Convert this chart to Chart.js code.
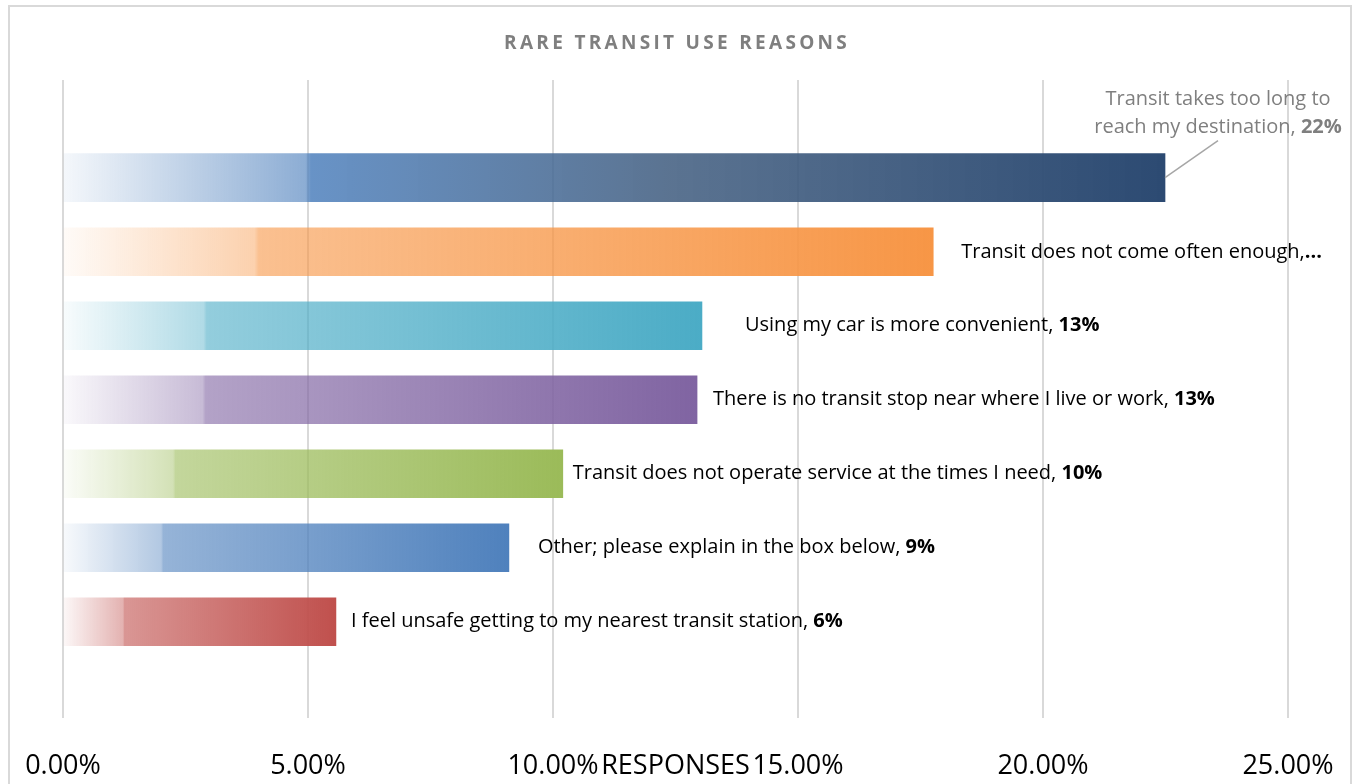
<!DOCTYPE html>
<html>
<head>
<meta charset="utf-8">
<title>Rare Transit Use Reasons</title>
<script src="https://cdn.jsdelivr.net/npm/chart.js@4.4.1/dist/chart.umd.min.js"></script>
<style>
  body { margin: 0; background: #fff; overflow: hidden; }
  #frame { position: absolute; left: 8px; top: 5px; width: 1344px; height: 820px; border: 2px solid #d9d9d9; box-sizing: border-box; }
  #myChart { position: absolute; left: 0; top: 0; }
</style>
</head>
<body>
<div id="frame"></div>
<canvas id="myChart" width="1353" height="784"></canvas>
<script>
// Reasons given for rarely using transit, share of responses (%)
const reasons = [
    'Transit takes too long to reach my destination',
    'Transit does not come often enough',
    'Using my car is more convenient',
    'There is no transit stop near where I live or work',
    'Transit does not operate service at the times I need',
    'Other; please explain in the box below',
    'I feel unsafe getting to my nearest transit station'
];
const responses = [22.49, 17.76, 13.04, 12.94, 10.2, 9.1, 5.57];
const xTicks = [0, 5, 10, 15, 20, 25];
const chartTitle = 'RARE TRANSIT USE REASONS';
const axisTitle = 'RESPONSES';

// Bar end colours (Office palette), faded toward the axis
const barColors = ['#2c4a72', '#f79646', '#4bacc6', '#8064a2', '#9bbb59', '#4f81bd', '#c0504d'];
// Horizontal gap between bar end and its label
const labelGaps = [0, 28, 43, 16, 10, 29, 15];

const FONT = '"Open Sans", "Noto Sans", sans-serif';
const LABEL_SIZE = 20;
const TICK_SIZE = 27;

function rgba(hex, a) {
    const n = parseInt(hex.slice(1), 16);
    return `rgba(${(n >> 16) & 255}, ${(n >> 8) & 255}, ${n & 255}, ${a})`;
}

// Gradient fill running from the zero line to the end of each bar
function barFill(context) {
    const chart = context.chart;
    const i = context.dataIndex;
    if (!chart.chartArea || context.type !== 'data') return barColors[i] || '#888';
    const xs = chart.scales.x;
    const x0 = xs.getPixelForValue(0);
    const x1 = xs.getPixelForValue(context.raw.x);
    const g = chart.ctx.createLinearGradient(x0, 0, x1, 0);
    if (i === 0) {
        g.addColorStop(0, rgba('#4f81bd', 0.06));
        g.addColorStop(0.22, rgba('#4f81bd', 0.65));
        g.addColorStop(0.225, rgba('#4f81bd', 0.86));
        g.addColorStop(0.55, rgba('#446082', 0.88));
        g.addColorStop(1, rgba('#2c4a72', 1));
    } else {
        const c = barColors[i];
        g.addColorStop(0, rgba(c, 0.04));
        g.addColorStop(0.22, rgba(c, 0.44));
        g.addColorStop(0.225, rgba(c, 0.6));
        g.addColorStop(1, rgba(c, 1));
    }
    return g;
}

// Draws a normal run followed by a bold run starting at x
function drawRun(ctx, x, y, text, bold, color, size) {
    ctx.fillStyle = color;
    ctx.font = `${size}px ${FONT}`;
    ctx.textAlign = 'left';
    ctx.fillText(text, x, y);
    const w = ctx.measureText(text).width;
    ctx.font = `bold ${size}px ${FONT}`;
    ctx.fillText(bold, x + w, y);
}

function runWidth(ctx, text, bold, size) {
    ctx.font = `${size}px ${FONT}`;
    const w = ctx.measureText(text).width;
    ctx.font = `bold ${size}px ${FONT}`;
    return w + ctx.measureText(bold).width;
}

// Spaced-out chart title and the axis title that sits on the tick row
const titles = {
    id: 'titles',
    afterDraw(chart) {
        const ctx = chart.ctx;
        const xs = chart.scales.x;
        const cx = (chart.chartArea.left + chart.chartArea.right) / 2;
        ctx.save();
        ctx.textBaseline = 'middle';
        ctx.textAlign = 'center';
        ctx.fillStyle = '#7f7f7f';
        ctx.font = `bold 19px ${FONT}`;
        ctx.letterSpacing = '3.3px';
        ctx.fillText(chartTitle, cx + 1.6, 44);
        ctx.letterSpacing = '0px';
        ctx.fillStyle = '#000';
        ctx.font = `${TICK_SIZE}px ${FONT}`;
        const y = xs.top + xs.options.grid.tickLength + TICK_SIZE * 1.2 / 2;
        ctx.fillText(axisTitle, cx, y);
        ctx.restore();
    }
};

// Category name + value written beside each bar
const valueLabels = {
    id: 'valueLabels',
    afterDatasetsDraw(chart) {
        const ctx = chart.ctx;
        const meta = chart.getDatasetMeta(0);
        const size = LABEL_SIZE;
        ctx.save();
        ctx.textBaseline = 'middle';
        meta.data.forEach((bar, i) => {
            const pct = Math.round(responses[i]) + '%';
            if (i === 0) {
                // callout above the longest bar with a leader line
                const cx = bar.x + 53;
                const words = reasons[i].split(' ');
                const line1 = words.slice(0, 5).join(' ');
                const line2 = words.slice(5).join(' ') + ', ';
                ctx.strokeStyle = '#a6a6a6';
                ctx.lineWidth = 1.5;
                ctx.beginPath();
                ctx.moveTo(bar.x, bar.y);
                ctx.lineTo(cx, bar.y - 37);
                ctx.stroke();
                ctx.fillStyle = '#7f7f7f';
                ctx.font = `${size}px ${FONT}`;
                ctx.textAlign = 'center';
                ctx.fillText(line1, cx, bar.y - 78);
                const w = runWidth(ctx, line2, pct, size);
                drawRun(ctx, cx - w / 2, bar.y - 50, line2, pct, '#7f7f7f', size);
            } else if (i === 1) {
                drawRun(ctx, bar.x + labelGaps[i], bar.y + 1, reasons[i] + ',', '...', '#000', size);
            } else {
                drawRun(ctx, bar.x + labelGaps[i], bar.y, reasons[i] + ', ', pct, '#000', size);
            }
        });
        ctx.restore();
    }
};

function createChart() {
    const ctx = document.getElementById('myChart').getContext('2d');
    new Chart(ctx, {
        type: 'bar',
        data: {
            datasets: [{
                label: 'Responses',
                data: responses.map((v, i) => ({ x: v, y: i })),
                backgroundColor: barFill,
                borderWidth: 0,
                barThickness: 48
            }]
        },
        options: {
            indexAxis: 'y',
            responsive: false,
            animation: false,
            layout: { padding: { left: 63, right: 65, top: 80, bottom: 1.6 } },
            plugins: {
                legend: { display: false },
                tooltip: { enabled: false },
                title: { display: false }
            },
            scales: {
                x: {
                    type: 'linear',
                    min: 0,
                    max: 25,
                    afterBuildTicks: scale => { scale.ticks = xTicks.map(v => ({ value: v })); },
                    grid: {
                        color: '#d9d9d9',
                        lineWidth: 2,
                        drawTicks: true,
                        tickLength: 32,
                        tickColor: 'rgba(0,0,0,0)'
                    },
                    border: { display: false },
                    ticks: {
                        padding: 0,
                        color: '#000',
                        font: { family: FONT, size: TICK_SIZE },
                        callback: v => v.toFixed(2) + '%'
                    }
                },
                y: {
                    type: 'linear',
                    display: false,
                    offset: false,
                    grid: { offset: false },
                    reverse: true,
                    min: -1.32,
                    max: 7.3
                }
            }
        },
        plugins: [valueLabels, titles]
    });
}

window.onload = createChart;
</script>
</body>
</html>
